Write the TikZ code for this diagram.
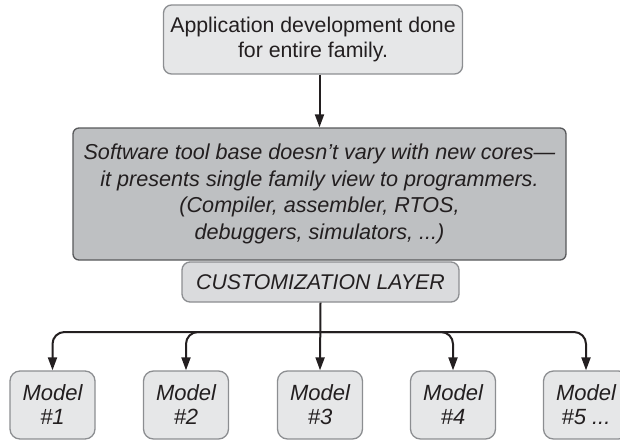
\documentclass[tikz,border=0pt]{standalone}
\usepackage{fontspec}
\setmainfont{Liberation Sans}
\usetikzlibrary{arrows.meta}

\definecolor{lightbox}{RGB}{230,231,232}
\definecolor{midbox}{RGB}{218,219,221}
\definecolor{darkbox}{RGB}{190,192,194}
\definecolor{edgegray}{RGB}{140,142,145}
\definecolor{edgedark}{RGB}{88,89,91}
\definecolor{inkline}{RGB}{35,31,32}

\begin{document}
\begin{tikzpicture}[x=1pt, y=-1pt,
    box/.style={draw=edgegray, line width=1.3pt, rounded corners=8pt,
      fill=lightbox, align=center, text=inkline, inner sep=0pt,
      font=\fontsize{21.3}{25}\selectfont},
    toolbox/.style={box, draw=edgedark, fill=darkbox, rounded corners=6pt,
      font=\fontsize{21.6}{26.5}\selectfont\itshape},
    modelbox/.style={box, fill=lightbox, rounded corners=10pt,
      minimum width=85pt, minimum height=68pt, font=\fontsize{22}{24}\selectfont\itshape},
    feed/.style={draw=inkline, line width=2pt, -{Triangle[length=13pt,width=9pt]}},
    branch/.style={feed, rounded corners=12pt}]

    % Page frame (model 5 runs off the right edge)
    \path[use as bounding box, clip] (0,0) rectangle (620,441);

    % Family level
    \node[box, minimum width=299pt, minimum height=69pt] (family) at (313,39.5)
      {Application development done\\for entire family.};

    % Software tools
    \node[toolbox, minimum width=493pt, minimum height=132pt] (tools) at (319.5,194)
      {Software tool base doesn't vary with new cores---\\
       it presents single family view to programmers.\\
       (Compiler, assembler, RTOS,\\
       debuggers, simulators, ...)};

    % Customization layer
    \node[box, fill=midbox, minimum width=277pt, minimum height=40pt] (custom) at (320.5,282)
      {\itshape CUSTOMIZATION LAYER};

    % Models
    \node[modelbox] (m1) at (52.5,405) {Model\\\#1};
    \node[modelbox] (m2) at (186,405) {Model\\\#2};
    \node[modelbox] (m3) at (320,405) {Model\\\#3};
    \node[modelbox] (m4) at (453,405) {Model\\\#4};
    \node[modelbox] (m5) at (586,405) {Model\\\#5 ...};

    % Branch point under the customization layer
    \coordinate (hub) at (320,332);

    % Connectors
    \draw[feed] (family.south -| tools.north) -- (tools.north);
    \draw[feed] (custom.south) -- (m3.north);
    \draw[branch] (hub) -| (m1.north);
    \draw[branch] (hub) -| (m2.north);
    \draw[branch] (hub) -| (m4.north);
    \draw[branch] (hub) -| (m5.north);
\end{tikzpicture}
\end{document}
